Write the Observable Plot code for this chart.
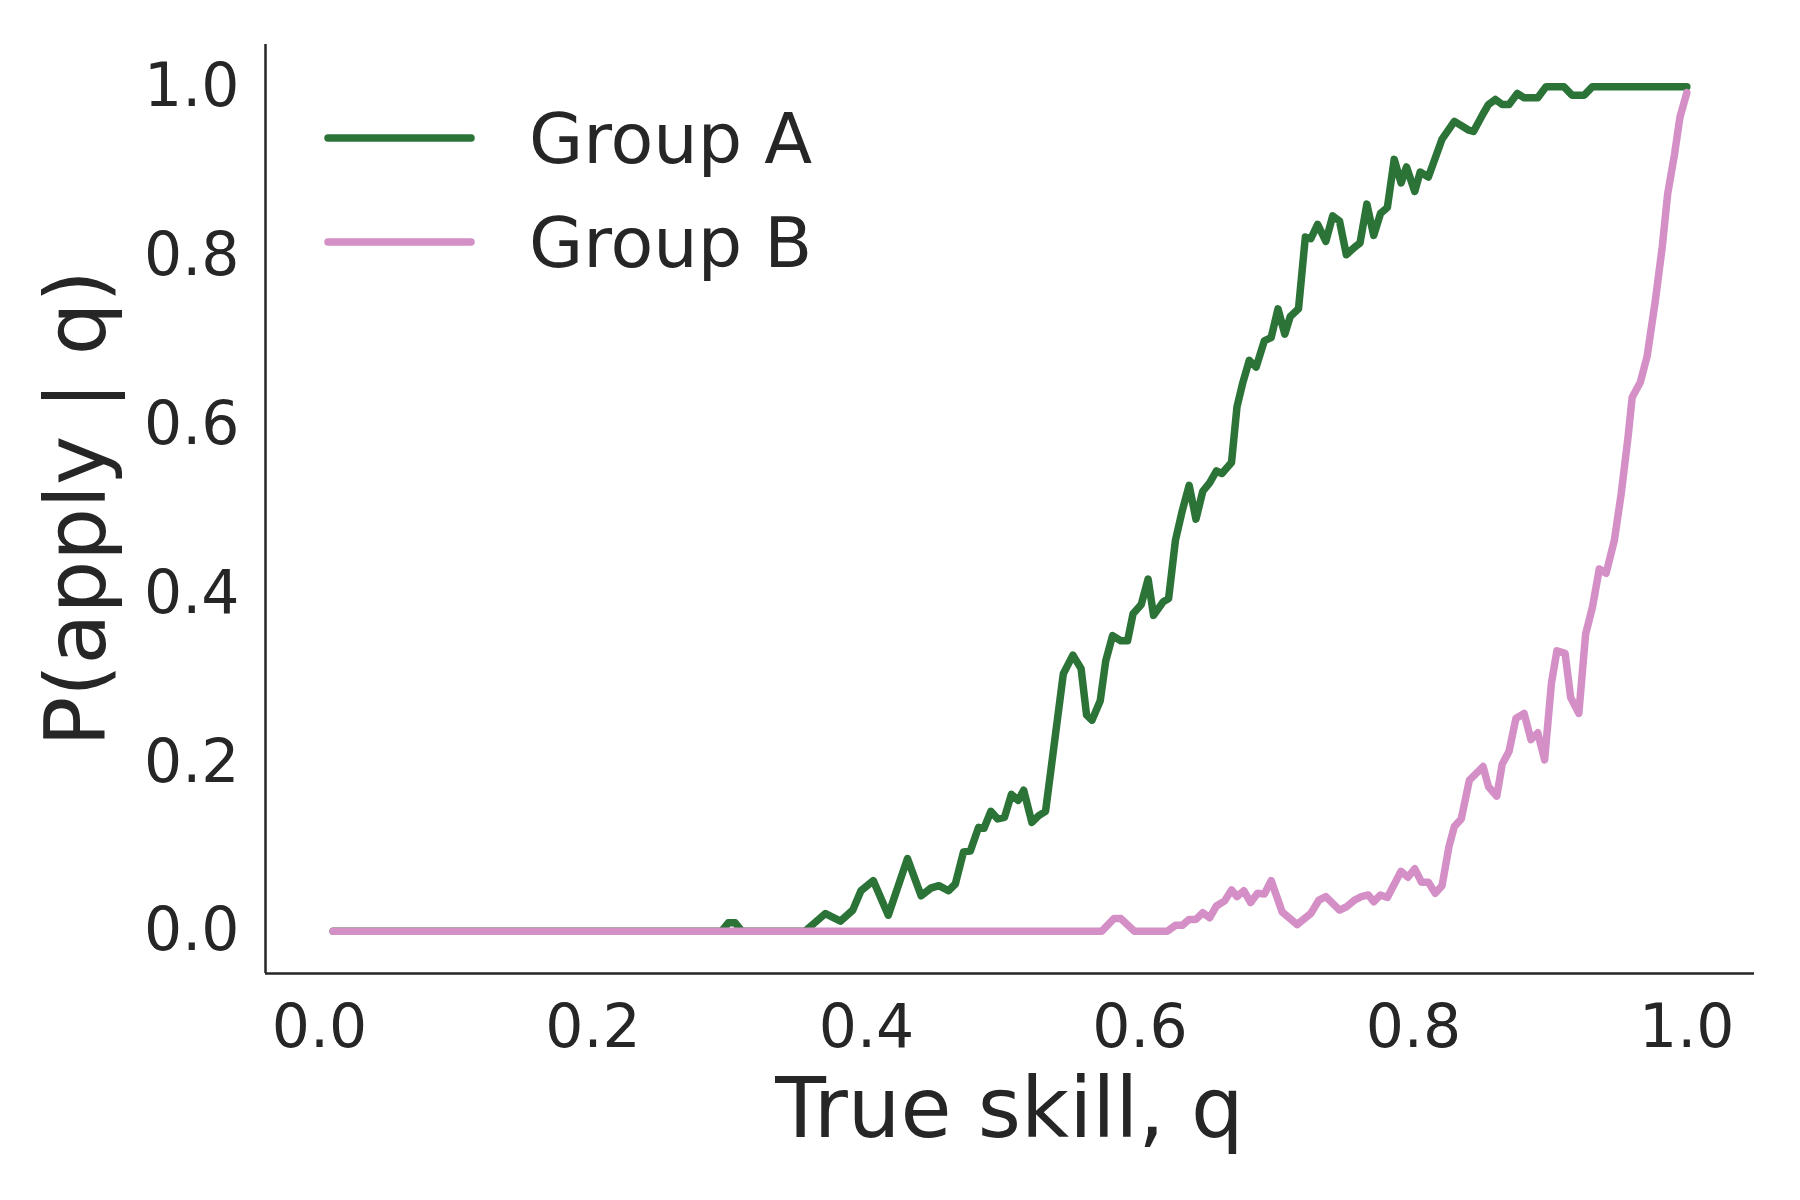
<!DOCTYPE html>
<html>
<head>
<meta charset="utf-8">
<script src="https://cdn.jsdelivr.net/npm/d3@7"></script>
<script src="https://cdn.jsdelivr.net/npm/@observablehq/plot@0.6"></script>
<style>
  html, body { margin: 0; padding: 0; background: #ffffff; }
  #chart { width: 1800px; height: 1200px; }
</style>
</head>
<body>
<div id="chart"></div>
<script>
// ---- Data (vertices) ----
const seriesNames = ["Group A", "Group B"];
const seriesColors = ["#2c7338", "#d490c6"];

const qA = [0.01, 0.294, 0.299, 0.304, 0.309, 0.355, 0.370, 0.381, 0.390, 0.396, 0.405, 0.416, 0.430, 0.440, 0.447, 0.453, 0.460, 0.465, 0.471, 0.476, 0.482, 0.486, 0.491, 0.496, 0.501, 0.506, 0.511, 0.515, 0.521, 0.526, 0.531, 0.544, 0.551, 0.557, 0.561, 0.565, 0.571, 0.575, 0.580, 0.586, 0.591, 0.595, 0.601, 0.606, 0.610, 0.617, 0.621, 0.626, 0.631, 0.636, 0.641, 0.646, 0.651, 0.656, 0.660, 0.667, 0.671, 0.675, 0.680, 0.685, 0.691, 0.696, 0.701, 0.706, 0.710, 0.716, 0.721, 0.725, 0.730, 0.736, 0.741, 0.746, 0.751, 0.757, 0.761, 0.766, 0.771, 0.776, 0.781, 0.786, 0.791, 0.795, 0.801, 0.805, 0.811, 0.821, 0.830, 0.840, 0.844, 0.851, 0.855, 0.860, 0.865, 0.870, 0.876, 0.881, 0.891, 0.897, 0.910, 0.916, 0.925, 0.931, 1.0];
const pA = [0, 0, 0.010, 0.010, 0, 0, 0.021, 0.012, 0.025, 0.048, 0.060, 0.019, 0.086, 0.042, 0.051, 0.054, 0.048, 0.056, 0.094, 0.095, 0.123, 0.122, 0.142, 0.133, 0.135, 0.162, 0.155, 0.167, 0.129, 0.137, 0.142, 0.305, 0.327, 0.311, 0.256, 0.250, 0.273, 0.320, 0.350, 0.344, 0.344, 0.376, 0.387, 0.417, 0.374, 0.390, 0.394, 0.463, 0.498, 0.528, 0.488, 0.521, 0.531, 0.545, 0.542, 0.555, 0.621, 0.648, 0.676, 0.668, 0.699, 0.703, 0.737, 0.707, 0.728, 0.737, 0.822, 0.820, 0.837, 0.817, 0.847, 0.841, 0.801, 0.810, 0.815, 0.861, 0.824, 0.850, 0.857, 0.914, 0.886, 0.905, 0.876, 0.899, 0.893, 0.938, 0.959, 0.949, 0.947, 0.968, 0.979, 0.985, 0.979, 0.979, 0.992, 0.987, 0.987, 1.0, 1.0, 0.990, 0.990, 1.0, 1.0];

const qB = [0.01, 0.572, 0.581, 0.586, 0.596, 0.620, 0.626, 0.631, 0.636, 0.641, 0.646, 0.651, 0.656, 0.662, 0.667, 0.671, 0.676, 0.681, 0.686, 0.691, 0.696, 0.704, 0.715, 0.725, 0.731, 0.736, 0.746, 0.751, 0.757, 0.762, 0.767, 0.771, 0.776, 0.781, 0.791, 0.796, 0.801, 0.806, 0.811, 0.816, 0.821, 0.826, 0.830, 0.835, 0.841, 0.851, 0.855, 0.861, 0.865, 0.870, 0.875, 0.881, 0.886, 0.891, 0.896, 0.901, 0.905, 0.911, 0.915, 0.921, 0.926, 0.931, 0.936, 0.941, 0.947, 0.952, 0.957, 0.960, 0.966, 0.971, 0.977, 0.982, 0.986, 0.991, 0.995, 1.0];
const pB = [0, 0, 0.015, 0.015, 0, 0, 0.007, 0.007, 0.014, 0.014, 0.022, 0.016, 0.030, 0.036, 0.049, 0.041, 0.048, 0.034, 0.045, 0.044, 0.060, 0.023, 0.008, 0.021, 0.037, 0.041, 0.025, 0.029, 0.037, 0.041, 0.043, 0.035, 0.043, 0.040, 0.071, 0.064, 0.074, 0.058, 0.058, 0.045, 0.054, 0.100, 0.124, 0.133, 0.179, 0.195, 0.171, 0.160, 0.198, 0.213, 0.252, 0.258, 0.227, 0.235, 0.203, 0.294, 0.332, 0.329, 0.277, 0.258, 0.352, 0.384, 0.429, 0.424, 0.463, 0.518, 0.585, 0.632, 0.650, 0.681, 0.747, 0.810, 0.873, 0.920, 0.964, 0.993];

const xTicks = [0.0, 0.2, 0.4, 0.6, 0.8, 1.0];
const yTicks = [0.0, 0.2, 0.4, 0.6, 0.8, 1.0];
const xLabel = "True skill, q";
const yLabel = "P(apply | q)";

// ---- Build tables ----
const dataA = qA.map((q, i) => ({q, p: pA[i], g: seriesNames[0]}));
const dataB = qB.map((q, i) => ({q, p: pB[i], g: seriesNames[1]}));

const W = 1800, H = 1200;
const mL = 265, mR = 46, mT = 44, mB = 227;
const xDom = [-0.0395, 1.0495];
const yDom = [-0.05, 1.05];
const ink = "#262626";
const font = "DejaVu Sans, Liberation Sans, sans-serif";
const lineW = 7.5;

const chart = Plot.plot({
  width: W,
  height: H,
  marginLeft: mL,
  marginRight: mR,
  marginTop: mT,
  marginBottom: mB,
  style: {fontFamily: font, fontSize: "60px", color: ink, background: "#ffffff", overflow: "visible"},
  x: {domain: xDom},
  y: {domain: yDom},
  marks: [
    Plot.line(dataA, {x: "q", y: "p", stroke: seriesColors[0], strokeWidth: lineW, strokeLinejoin: "round", strokeLinecap: "round"}),
    Plot.line(dataB, {x: "q", y: "p", stroke: seriesColors[1], strokeWidth: lineW, strokeLinejoin: "round", strokeLinecap: "round"}),
    Plot.ruleX([xDom[0]], {stroke: ink, strokeWidth: 2.5}),
    Plot.ruleY([yDom[0]], {stroke: ink, strokeWidth: 2.5}),
    Plot.axisX({ticks: xTicks, tickSize: 0, tickPadding: 31, fontSize: 60, tickFormat: d => d.toFixed(1), label: null}),
    Plot.axisY({ticks: yTicks, tickSize: 0, tickPadding: 26, fontSize: 60, tickFormat: d => d.toFixed(1), label: null})
  ]
});

document.getElementById("chart").appendChild(chart);

// ---- Axis titles and legend (text) ----
const svg = d3.select(chart);
svg.append("text")
  .attr("x", (mL + (W - mR)) / 2)
  .attr("y", 1137)
  .attr("text-anchor", "middle")
  .attr("fill", ink)
  .style("font-family", font)
  .style("font-size", "83px")
  .text(xLabel);

svg.append("text")
  .attr("transform", `translate(105,${(mT + (H - mB)) / 2}) rotate(-90)`)
  .attr("text-anchor", "middle")
  .attr("fill", ink)
  .style("font-family", font)
  .style("font-size", "83px")
  .text(yLabel);

const legendRows = [
  {name: seriesNames[0], color: seriesColors[0], y: 138},
  {name: seriesNames[1], color: seriesColors[1], y: 242}
];
const lg = svg.append("g");
legendRows.forEach(r => {
  lg.append("line")
    .attr("x1", 328).attr("x2", 471)
    .attr("y1", r.y).attr("y2", r.y)
    .attr("stroke", r.color)
    .attr("stroke-width", lineW)
    .attr("stroke-linecap", "round");
  lg.append("text")
    .attr("x", 529)
    .attr("y", r.y + 25)
    .attr("text-anchor", "start")
    .attr("fill", ink)
    .style("font-family", font)
    .style("font-size", "70px")
    .text(r.name);
});
</script>
</body>
</html>
